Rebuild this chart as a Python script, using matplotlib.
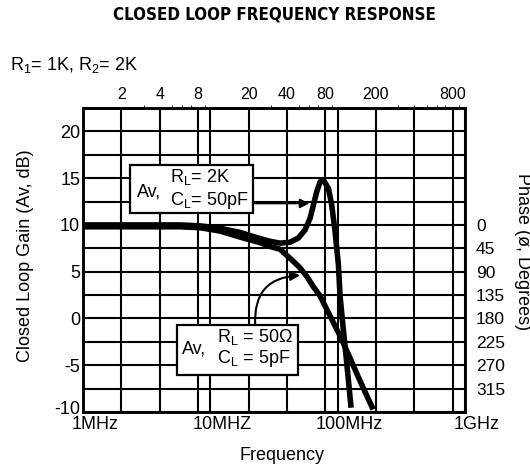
import numpy as np
import matplotlib
matplotlib.use('Agg')
import matplotlib.pyplot as plt
from matplotlib.patches import Rectangle, FancyArrowPatch
from matplotlib.ticker import NullFormatter
from matplotlib.transforms import ScaledTranslation

plt.rcParams['font.family'] = ['Liberation Sans', 'DejaVu Sans']
plt.rcParams['mathtext.fontset'] = 'custom'
plt.rcParams['mathtext.rm'] = 'Liberation Sans'
plt.rcParams['mathtext.default'] = 'regular'
plt.rcParams['axes.unicode_minus'] = False

# RL = 2K, CL = 50pF  (frequency in MHz, gain in dB)
freq_a = [1, 5.78, 8.3, 11.9, 17.1, 23.1, 29.4, 35.3, 42.3, 49.1, 55.4, 60.7, 64.4, 68.5,
          72.8, 77.3, 84.6, 89.9, 95.4, 101.3, 104.5, 110.9, 117.9, 126.8]
gain_a = [10, 10, 9.9, 9.65, 9.2, 8.65, 8.25, 8.05, 8.15, 8.6, 9.46, 10.7, 12.1, 13.55,
          14.6, 14.8, 13.9, 12.1, 9.28, 5.8, 2.33, -1.23, -4.79, -9.25]

# RL = 50 ohm, CL = 5pF
freq_b = [1, 5.78, 8.3, 11.9, 17.1, 24.6, 29.4, 35.3, 44.9, 50.7, 57.2, 64.4, 72.8, 87.2,
          104.5, 125, 150, 186]
gain_b = [9.8, 9.8, 9.7, 9.35, 8.7, 8.1, 7.7, 7.4, 6.1, 5.4, 4.5, 3.4, 2.4, 0.26,
          -1.87, -4.23, -6.69, -9.46]

bottom_ticks = [1, 10, 100, 1000]
bottom_labels = ['1MHz', '10MHZ', '100MHz', '1GHz']
top_ticks = [2, 4, 8, 20, 40, 80, 200, 800]
top_labels = ['2', '4', '8', '20', '40', '80', '200', '800']
grid_x = [2, 4, 8, 20, 40, 80, 200, 400, 800]
gain_ticks = [-10, -5, 0, 5, 10, 15, 20]
phase_ticks = [0, 45, 90, 135, 180, 225, 270, 315]

fig = plt.figure(figsize=(5.3, 4.7), dpi=100)
ax = fig.add_axes([83/530, 58/470, 382/530, 304/470])

ax.plot(freq_a, gain_a, color='black', lw=4, zorder=4, solid_joinstyle='round')
ax.plot(freq_b, gain_b, color='black', lw=4, zorder=4, solid_joinstyle='round')

ax.set_xscale('log')
ax.set_xlim(1, 1000)
ax.set_ylim(-10, 22.5)
ax.set_xticks(bottom_ticks, bottom_labels)
ax.set_xticks(grid_x, minor=True)
ax.xaxis.set_minor_formatter(NullFormatter())
ax.set_yticks(gain_ticks, [str(g) for g in gain_ticks])
ax.set_yticks(np.arange(-7.5, 22, 5), minor=True)
ax.grid(which='both', color='black', lw=1.5, zorder=1)
ax.set_axisbelow(True)
ax.tick_params(which='both', length=0)
ax.tick_params(axis='y', pad=2, labelsize=13)
ax.tick_params(axis='x', pad=3, labelsize=13)
for lab in ax.get_xticklabels():
    lab.set_transform(lab.get_transform() + ScaledTranslation(0.12, 0, fig.dpi_scale_trans))
ylabs = ax.get_yticklabels()
ylabs[0].set_transform(ylabs[0].get_transform() + ScaledTranslation(0, 0.04, fig.dpi_scale_trans))
for s in ax.spines.values():
    s.set_linewidth(1.8)

top = ax.secondary_xaxis('top')
top.set_xticks(top_ticks, top_labels)
top.tick_params(length=0, pad=4, labelsize=11.5)
top.spines['top'].set_linewidth(1.8)

ax2 = ax.twinx()
ax2.set_ylim(360, -225)
ax2.set_yticks(phase_ticks, [str(p) for p in phase_ticks])
ax2.tick_params(length=0, pad=8, labelsize=12.5)
for s in ax2.spines.values():
    s.set_linewidth(1.8)

# label boxes
ax.add_patch(Rectangle((2.34, 11.3), 21.6 - 2.34, 16.4 - 11.3, facecolor='white',
                       edgecolor='black', lw=1.6, zorder=3))
ax.text(2.66, 13.0, 'Av,', fontsize=13, zorder=5)
ax.text(4.83, 14.6, 'R$_L$= 2K', fontsize=13, zorder=5)
ax.text(4.83, 12.1, 'C$_L$= 50pF', fontsize=13, zorder=5)

ax.add_patch(Rectangle((5.47, -6.04), 48.9 - 5.47, 6.04 - 0.7, facecolor='white',
                       edgecolor='black', lw=1.6, zorder=3))
ax.text(6.0, -3.7, 'Av,', fontsize=13, zorder=5)
ax.text(11.3, -2.5, 'R$_L$ = 50Ω', fontsize=13, zorder=5)
ax.text(11.3, -4.76, 'C$_L$ = 5pF', fontsize=13, zorder=5)

ax.add_patch(FancyArrowPatch((21.6, 12.3), (60, 12.3), arrowstyle='-|>', mutation_scale=14,
                             lw=1.3, color='black', shrinkA=0, shrinkB=0, zorder=5))
ax.add_patch(FancyArrowPatch((22.5, -0.7), (50.7, 4.6), arrowstyle='-|>', mutation_scale=14,
                             lw=1.5, color='black', shrinkA=0, shrinkB=0, zorder=5,
                             connectionstyle='arc3,rad=-0.5'))

fig.text(274/530, 1 - 15/470, 'CLOSED LOOP FREQUENCY RESPONSE', ha='center', va='center',
         fontsize=12.2, fontweight='bold', fontstretch='condensed', family=['DejaVu Sans'])
fig.text(10/530, 1 - 70/470, 'R$_1$= 1K, R$_2$= 2K', ha='left', va='baseline', fontsize=13)
fig.text(25/530, 1 - 256/470, 'Closed Loop Gain (Av, dB)', rotation=90, ha='center', va='center', fontsize=13)
fig.text(523/530, 1 - 252/470, 'Phase (ø, Degrees)', rotation=270, ha='center', va='center', fontsize=13)
fig.text(282/530, 1 - 455/470, 'Frequency', ha='center', va='center', fontsize=13)

fig.savefig('out.png', dpi=100)
